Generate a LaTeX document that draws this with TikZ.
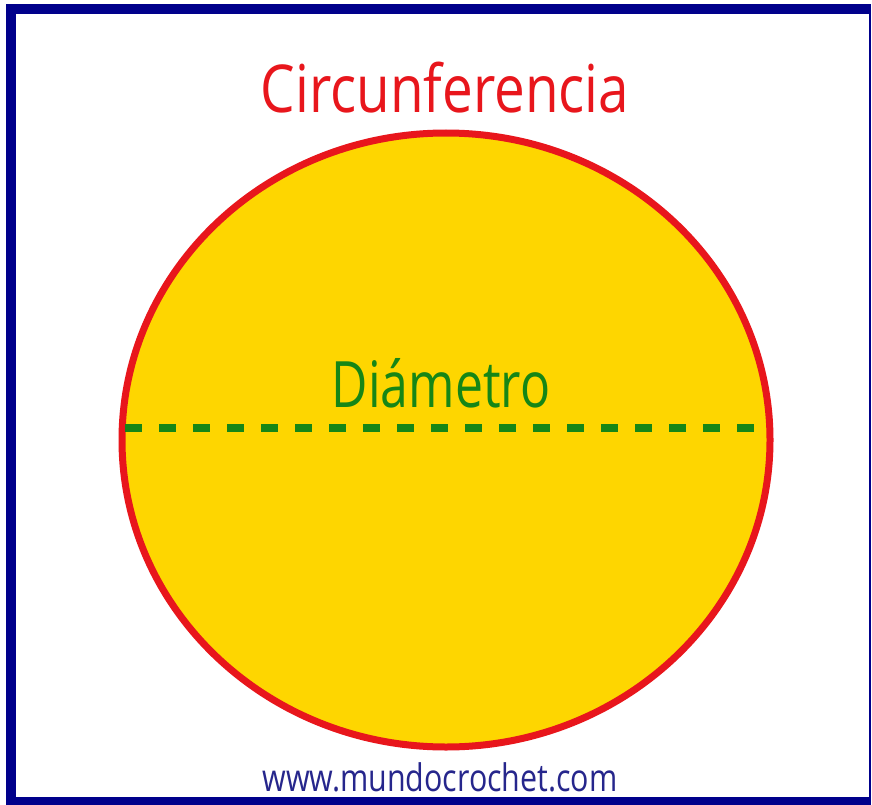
\documentclass[tikz,border=0pt]{standalone}
\usepackage{fontspec}
\setmainfont{Open Sans}
\usetikzlibrary{shapes,arrows}
\definecolor{marco}{RGB}{0,0,139}
\definecolor{rojo}{RGB}{232,22,28}
\definecolor{amarillo}{RGB}{254,214,0}
\definecolor{verde}{RGB}{22,134,22}
\definecolor{tinta}{RGB}{38,38,140}
\tikzstyle{titulo} = [rojo, font=\fontsize{66}{66}\selectfont, xscale=0.83, inner sep=0pt]
\tikzstyle{etiqueta} = [verde, font=\fontsize{64}{64}\selectfont, xscale=0.78, inner sep=0pt]
\tikzstyle{web} = [tinta, font=\fontsize{38}{38}\selectfont, xscale=0.8, inner sep=0pt]

\begin{document}
\begin{tikzpicture}[x=1pt, y=-1pt]
      \useasboundingbox (0,0) rectangle (872,805);

      % marco azul
      \fill [marco] (6,4) rectangle (871,805);
      \fill [white] (16,14) rectangle (869,797);

      % circunferencia
      \draw [line width=7pt, rojo, fill=amarillo] (446,440) ellipse [x radius=324pt, y radius=307pt];

      \node [titulo] (titulo) at (445,88) {Circunferencia};

      % diametro
      \coordinate (izq) at (125,428);
      \coordinate (der) at (755,428);
      \draw [line width=8pt, verde, dash pattern=on 17pt off 17pt] (izq) -- (der);
      \node [etiqueta] (diametro) at (441,383) {Diámetro};

      \node [web] (web) at (440,777) {www.mundocrochet.com};

      %\draw [line width=8pt, verde, dashed] (125,428) -- (757,428);
    \end{tikzpicture}
\end{document}
